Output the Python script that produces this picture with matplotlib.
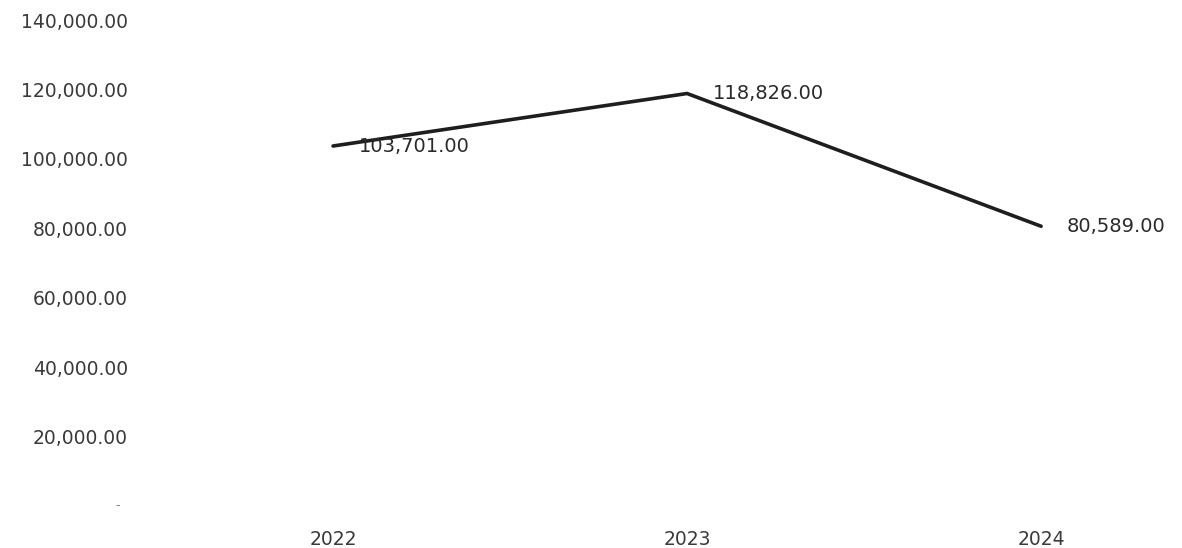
import matplotlib.pyplot as plt
import matplotlib.transforms as mtransforms
from matplotlib.ticker import FuncFormatter

years = ['2022', '2023', '2024']
values = [103701.00, 118826.00, 80589.00]
y_ticks = [0, 20000, 40000, 60000, 80000, 100000, 120000, 140000]

plt.rcParams['font.family'] = ['DejaVu Sans']
text_color = '#3a3a3a'

fig = plt.figure(figsize=(11.82, 5.48), dpi=100)
ax = fig.add_axes([160 / 1182, 42 / 548, 1022 / 1182, 486 / 548])

x = list(range(len(years)))
ax.plot(x, values, color='#1e1e1e', linewidth=2.6, solid_capstyle='round', solid_joinstyle='miter')

# 数值标签
for xi, v in zip(x, values):
    ax.annotate(f'{v:,.2f}', (xi, v), xytext=(18.5, 0), textcoords='offset points',
                ha='left', va='center', fontsize=14, color='#2a2a2a')

ax.set_xlim(-0.4887, 2.398)
ax.set_ylim(0, 140000)
ax.set_xticks(x)
ax.set_xticklabels(years)
ax.set_yticks(y_ticks)


def fmt(v, pos):
    if v == 0:
        return ''
    return f'{v:,.2f}'


ax.yaxis.set_major_formatter(FuncFormatter(fmt))
ax.tick_params(axis='y', length=0, pad=23, labelsize=13.5, labelcolor=text_color)
ax.tick_params(axis='x', length=0, pad=17.5, labelsize=13.5, labelcolor=text_color)

# 零值显示为短横
trans = mtransforms.blended_transform_factory(fig.transFigure, ax.transData)
ax.text(118 / 1182, 0, '-', transform=trans, ha='center', va='center',
        fontsize=9, color='#777777')

for s in ax.spines.values():
    s.set_visible(False)

fig.savefig('out.png', dpi=100)
